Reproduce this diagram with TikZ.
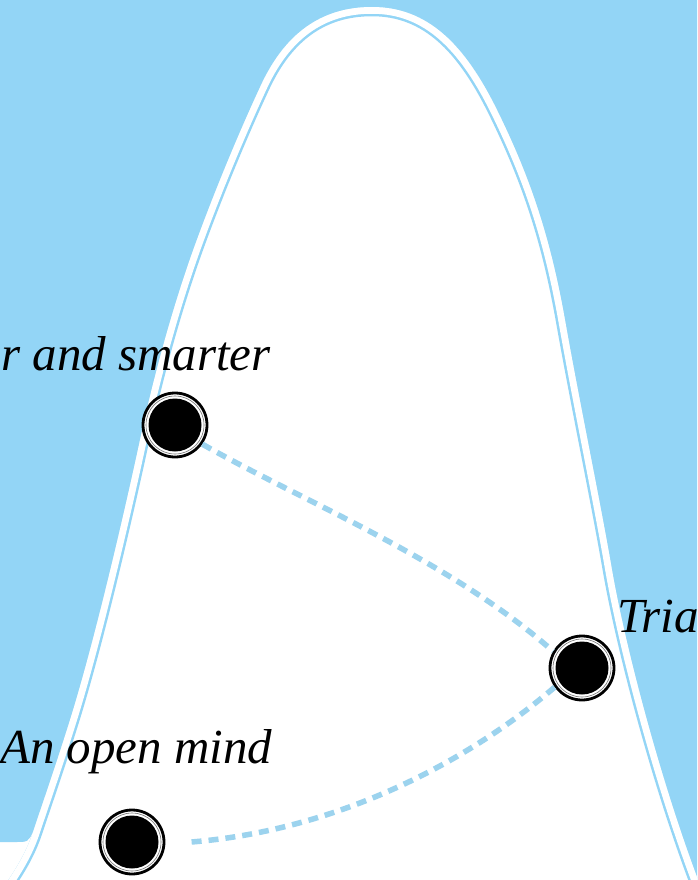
\documentclass[tikz,border=0pt]{standalone}
\usepackage{fontspec}
\setmainfont{Liberation Serif}
\definecolor{sky}{HTML}{93D5F6}
\definecolor{dashblue}{HTML}{9CD3EE}
\def\rightside{(700,885) .. controls (660,780) and (625,645) .. (612,570) .. controls (600,500) and (580,405) .. (565,320) .. controls (550,235) and (529,175) .. (497,110) .. controls (465,45) and (428,7) .. (372,7)}
\def\leftside{.. controls (320,7) and (285,35) .. (262,83) .. controls (240,130) and (215,190) .. (195,245) .. controls (175,300) and (155,370) .. (140,440) .. controls (125,510) and (95,640) .. (70,720) .. controls (55,768) and (42,805) .. (33,832)}
\def\foot{.. controls (27,850) and (18,866) .. (5,885)}
\begin{document}
\begin{tikzpicture}[x=1pt,y=-1pt,
  dotnode/.style={circle,draw=black,line width=2.8pt,fill=white,minimum size=64pt,inner sep=0pt},
  trail/.style={draw=dashblue,line width=5.5pt,dash pattern=on 10pt off 7pt},
  txt/.style={font=\fontsize{49}{56}\selectfont\itshape,inner sep=0pt,text=black}]
\useasboundingbox (0,0) rectangle (697,880);
\clip (0,0) rectangle (697,880);
\fill[white] (0,0) rectangle (697,880);
% blue sky around the mountain
\fill[sky] (0,842) -- (0,0) -- (697,0) -- \rightside \leftside .. controls (28,842) .. (15,842) -- cycle;
% inner outline, parallel to the edge
\begin{scope}
  \clip \rightside \leftside \foot -- cycle;
  \draw[sky,line width=18.5pt] \rightside \leftside \foot;
  \draw[white,line width=13.5pt] \rightside \leftside \foot;
\end{scope}
% nodes
\node[dotnode] (dot1) at (175,425) {};
\node[dotnode] (dot2) at (582,668) {};
\node[dotnode] (dot3) at (132,842) {};
% trails
\draw[trail] (dot1.-35) .. controls (300,500) and (450,560) .. (dot2.150);
\draw[trail] (dot2.215) .. controls (470,760) and (340,830) .. ([xshift=26pt]dot3.east);
% inner discs of the dots
\foreach \d in {dot1,dot2,dot3}{
  \fill[black] (\d.center) circle (26.5pt);
  \draw[black!55,line width=0.6pt] (\d.center) circle (29pt);
}
% labels
\node[txt,anchor=base west] (t1) at (1,370) {r and smarter};
\node[txt,anchor=base west] (t2) at (617,632) {Trial};
\node[txt,anchor=base west] (t3) at (0,763) {An open mind};
\end{tikzpicture}
\end{document}
